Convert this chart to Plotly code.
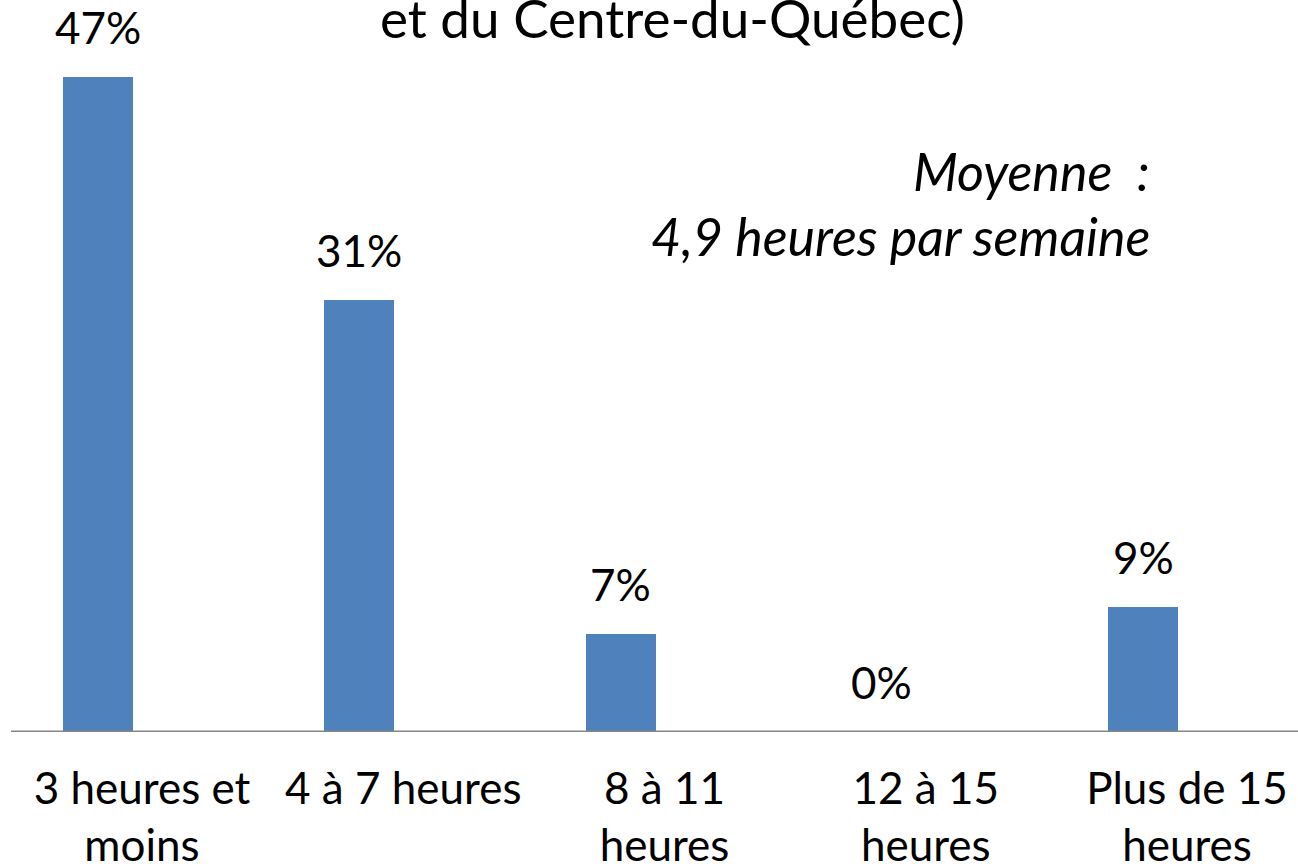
import plotly.graph_objects as go

categories = ["3 heures et<br>moins", "4 à 7 heures", "8 à 11<br>heures", "12 à 15<br>heures", "Plus de 15<br>heures"]
values = [47, 31, 7, 0, 9]
labels = ["47%", "31%", "7%", "0%", "9%"]
title_line = "et du Centre-du-Québec)"
note_line1 = "Moyenne  :"
note_line2 = "4,9 heures par semaine"

FONT = "Lato"
BLUE = "#4F81BD"
W, H = 1298, 864
base_y = 732.5        # baseline (px from top)
px_per_unit = 13.94   # px per percent
band = 261.25         # px per category
ML = 11               # left margin (axis line start)
first_center = 142    # first category centre (px)
bar_w = 70 / band
bar_off = (98 - 35 - first_center) / band

idx = list(range(len(categories)))
fig = go.Figure()
fig.add_trace(go.Bar(x=idx, y=values, marker=dict(color=BLUE, line=dict(width=0)),
                     width=bar_w, offset=bar_off, hoverinfo="skip"))

label_x = [i + bar_off + bar_w / 2 for i in idx]
for xv, v, t in zip(label_x, values, labels):
    fig.add_annotation(x=xv, y=v, xref="x", yref="y", text=t, showarrow=False,
                       yanchor="bottom", yshift=22,
                       font=dict(family=FONT, size=44, color="#000000"))

r0 = -(first_center - ML) / band
r1 = r0 + (W - ML) / band
fig.update_xaxes(range=[r0, r1], tickmode="array", tickvals=idx, ticktext=categories,
                 showgrid=False, zeroline=False, showline=False, automargin=False,
                 ticks="outside", ticklen=18, tickcolor="rgba(0,0,0,0)",
                 tickfont=dict(family=FONT, size=44, color="#000000"))
fig.update_yaxes(range=[0, base_y / px_per_unit], visible=False, automargin=False)

fig.add_shape(type="line", xref="paper", yref="y", x0=0, x1=1.0, y0=0, y1=0,
              line=dict(color="#868686", width=3))

fig.add_annotation(x=(672 - ML) / (W - ML), y=1.0, xref="paper", yref="paper", text=title_line,
                   showarrow=False, xanchor="center", yanchor="top", yshift=16,
                   font=dict(family=FONT, size=53, color="#000000"))
fig.add_annotation(x=(1152 - ML) / (W - ML), y=1 - 138 / base_y, xref="paper", yref="paper",
                   text="<i>" + note_line1 + "</i>", showarrow=False,
                   xanchor="right", yanchor="top",
                   font=dict(family=FONT, size=52, color="#000000"))
fig.add_annotation(x=(1152 - ML) / (W - ML), y=1 - 203 / base_y, xref="paper", yref="paper",
                   text="<i>" + note_line2 + "</i>", showarrow=False,
                   xanchor="right", yanchor="top",
                   font=dict(family=FONT, size=52, color="#000000"))

fig.update_layout(width=W, height=H, margin=dict(l=ML, r=0, t=0, b=H - base_y),
                  plot_bgcolor="white", paper_bgcolor="white", showlegend=False,
                  bargap=0)
fig.write_html("out.html", config={"displayModeBar": False},
               post_script="document.body.style.margin='0';document.body.style.overflow='hidden';")
